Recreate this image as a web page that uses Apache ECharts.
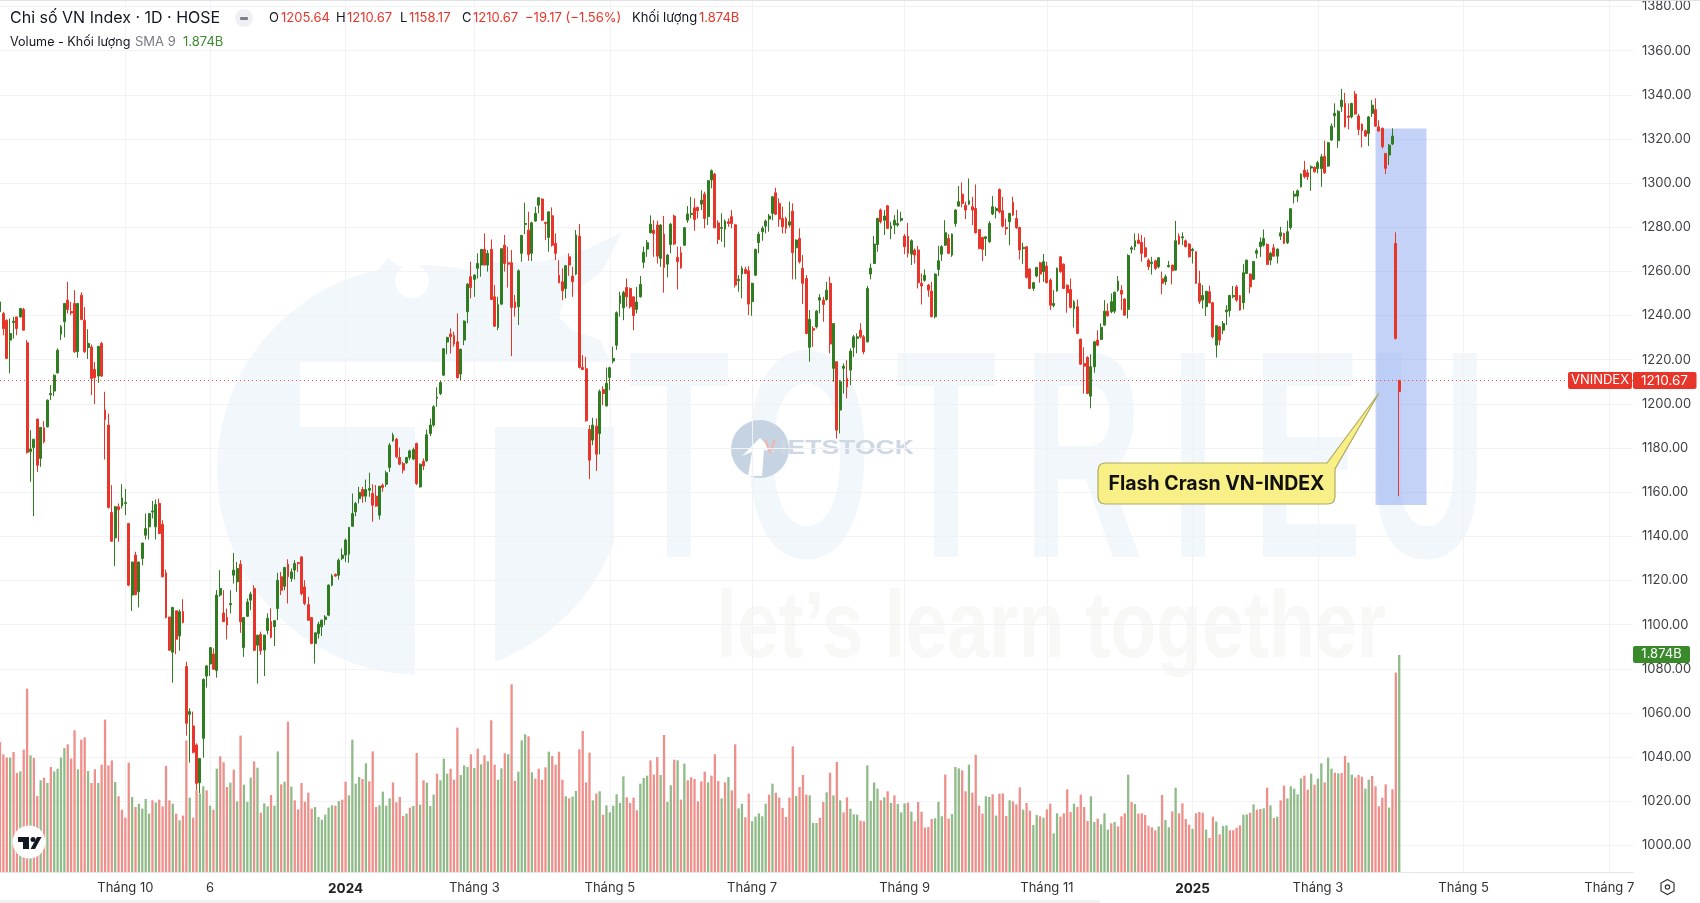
<!DOCTYPE html>
<html lang="vi">
<head>
<meta charset="UTF-8">
<title>Chỉ số VN Index</title>
<style>
    html, body { margin: 0; padding: 0; background: #fff; }
    #container { width: 1700px; height: 903px; }
</style>
</head>
<body>
<div id="container"></div>
<script src="https://cdn.jsdelivr.net/npm/echarts@6.0.0/dist/echarts.min.js"></script>
<script>
// [open, close, low, high]
var candles = [
[1241.7,1246.2,1240,1248],[1240.9,1234.1,1231.1,1241.7],[1237.9,1220.6,1220.3,1238.2],[1228.9,1231.9,1213.8,1238.7],[1236.9,1237.5,1229.6,1239.4],[1239.4,1234.1,1231.1,1239.4],[1239.4,1243.2,1239.1,1243.5],[1242.8,1233.4,1233.1,1243.5],[1227.7,1178,1177.5,1228.9],[1178.4,1179.6,1164.7,1188.1],
[1180.2,1184,1149.1,1184],[1193.1,1172.2,1169.2,1193.4],[1175.3,1189.3,1171.5,1189.6],[1189.2,1182.8,1182.1,1192.2],[1189.6,1201.7,1189.3,1202],[1204.1,1204.7,1201.7,1208.5],[1205.8,1213,1203.5,1213.3],[1214,1224.3,1213.8,1225.1],[1231.6,1234.9,1228.9,1235.7],[1237.2,1245.5,1230.1,1245.5],
[1247,1242.8,1240.9,1255.3],[1241.8,1241.2,1240.2,1246.2],[1245.5,1223.6,1223.1,1251.5],[1223.6,1245.5,1220.9,1245.5],[1249.2,1238.2,1237.9,1250.5],[1237.9,1223.6,1223.1,1243.9],[1225.5,1227.4,1220.4,1233.8],[1225.8,1211.5,1203.9,1226.9],[1215.6,1211.9,1199.9,1219],[1212.6,1226.1,1209.5,1226.1],
[1227.4,1212.6,1212.2,1228.1],[1197.2,1192.9,1174.8,1205.5],[1190.4,1153.1,1152.6,1195.6],[1150.8,1137.8,1137.5,1163.2],[1139.3,1153.4,1126.5,1153.7],[1153.4,1152.1,1137.5,1154.9],[1153.8,1157.4,1152.6,1163.6],[1154.9,1155.3,1149.6,1161.5],[1145.8,1117.9,1117.4,1146.1],[1113.4,1128.4,1106.2,1128.4],
[1131.5,1113.6,1113.3,1133],[1114.9,1128.4,1107.8,1128.4],[1130,1137,1126.9,1137],[1140.5,1143.5,1138.6,1150.3],[1144.3,1150.3,1138.6,1150.3],[1151,1151.5,1148.1,1156.1],[1144.3,1154.4,1138.6,1156.7],[1154.9,1141.3,1141,1157.1],[1145.4,1121.7,1121.4,1147.3],[1123.5,1103.2,1102.8,1125],
[1103.5,1088.4,1088.2,1103.5],[1087.5,1107.8,1073.7,1108.1],[1106.3,1093.4,1086.6,1106.3],[1094.9,1105.9,1088.2,1106.9],[1105.9,1101,1100.6,1111.5],[1081,1055.3,1049.7,1083.2],[1059.4,1060.6,1037.5,1062.1],[1054.1,1042.2,1041.7,1060.6],[1045.5,1028.1,1025,1046.2],[1028.4,1039.4,1023.6,1039.4],
[1048.5,1075.2,1039.7,1075.7],[1076.7,1081.3,1071.5,1081.7],[1082.2,1089.6,1076.7,1089.7],[1086.7,1079.8,1079.5,1089.3],[1079.2,1113.4,1076,1115.7],[1113.4,1116.4,1112.6,1124.7],[1105.3,1101.3,1101.3,1115.6],[1103.2,1099.8,1093.3,1107.3],[1109,1109.6,1105,1115.6],[1122.4,1124.7,1118.6,1132.5],
[1119.4,1125.4,1114.9,1128.4],[1127.4,1101.3,1096.3,1129.2],[1089.6,1103.2,1085.4,1103.5],[1103.8,1110.3,1103.5,1111.8],[1111.1,1113.8,1106.5,1114.9],[1116.4,1088.4,1088.1,1117.9],[1090.7,1095.2,1073.3,1095.5],[1095.6,1088.2,1086.3,1096.8],[1088.5,1095.3,1076.7,1095.3],[1097.3,1102.9,1095.6,1105.1],
[1101.4,1094.3,1093.8,1107.4],[1099.1,1101.8,1090.3,1102.1],[1107.3,1120.1,1102,1123.5],[1121.7,1115.6,1113.4,1123.9],[1117.4,1125.9,1115.6,1126.2],[1127.4,1121.7,1109.6,1129.6],[1120.9,1123.9,1119.4,1125.4],[1124.7,1127.7,1120.4,1129.2],[1128.1,1127.7,1123.9,1128.4],[1130.7,1114.1,1113.3,1131],
[1117.1,1109.6,1108.8,1120.1],[1109.1,1102,1101.7,1112.6],[1103.2,1091.5,1091.1,1103.5],[1091.5,1096.3,1082.4,1096.3],[1096,1100.2,1093.7,1101.3],[1099,1102,1094.8,1102.3],[1102.3,1103.5,1099.8,1104.3],[1104.3,1117.9,1103.8,1118.3],[1117.9,1122.1,1117.4,1122.9],[1122.7,1122,1121.7,1123.2],
[1122.4,1129.2,1120.4,1130],[1130,1131.5,1129.2,1134.5],[1131.5,1138.3,1128.4,1139],[1131.9,1144,1128,1144.3],[1144.6,1150.3,1144.3,1159.4],[1151.1,1154.9,1149.1,1155.6],[1157.1,1159.9,1154.9,1162.4],[1161.2,1158.2,1155.2,1162.4],[1158.2,1161.2,1155.6,1165.7],[1160.9,1161.7,1157.9,1168.8],
[1159.4,1154.1,1146.6,1163.6],[1158.2,1153.7,1153.4,1163.2],[1149.6,1162.7,1147.6,1162.7],[1163.2,1162.1,1160.2,1163.9],[1163.6,1168.8,1162.4,1169.7],[1171.2,1181.3,1169.2,1182.3],[1183.3,1185.8,1182.8,1186.9],[1184,1176,1175.3,1184.6],[1175.7,1172.7,1172.2,1180.2],[1173,1170,1168.5,1173.7],
[1173.3,1175.7,1172.7,1176],[1175.7,1178.7,1174.5,1179.3],[1175,1179.3,1174.5,1180.2],[1182,1163.9,1163.2,1182.5],[1162.4,1172.7,1162.1,1173],[1174,1171.9,1170,1175.3],[1174.2,1186,1173.8,1188.4],
[1186.6,1190.4,1185.4,1193.4],[1190.4,1198.7,1189.6,1199.4],[1202.5,1203.1,1198.7,1207.5],[1204.7,1209.7,1204,1210.8],[1213,1225,1212.6,1225.3],[1228,1230.1,1222.5,1230.4],[1231.6,1230.4,1222.8,1234.2],[1231,1227.1,1225.9,1232.7],[1228.1,1211.8,1211.5,1241],[1213.5,1224.7,1210.5,1225.1],
[1228.9,1237.5,1226.6,1237.8],[1241.7,1254.3,1236.5,1254.6],[1257.6,1252.7,1247.8,1264.4],[1256.4,1258.3,1248.5,1258.8],[1261.4,1263.6,1256.8,1268.2],[1262.9,1270,1257.6,1270],[1270,1262.9,1262.6,1277.2],[1262.9,1268.2,1259.9,1269.7],[1270,1247.3,1247,1274.5],[1248.5,1235.2,1234.9,1253.8],
[1234.6,1245,1233.4,1248.5],[1245.2,1270.3,1244.7,1270.4],[1271.9,1263.6,1259.9,1276.5],[1263.9,1263.3,1252.7,1271.2],[1263.9,1243.7,1221.6,1269.7],[1246.2,1243.5,1239.5,1249.3],[1244,1260.3,1235.7,1260.9],[1268.2,1276.3,1264.4,1276.6],[1281.3,1281.7,1276.9,1291.1],[1278.7,1267.7,1264.8,1287],
[1268.2,1282,1264.7,1282.5],[1282.8,1286.3,1282.5,1289.3],[1290,1293.4,1286.3,1293.5],[1292.8,1283.2,1282.9,1293.1],[1282.2,1281.7,1274.2,1282.5],[1275.4,1287,1268.9,1287],[1285.2,1271.9,1271.2,1289],[1272.7,1268.2,1265.1,1277.2],[1258.3,1254.9,1254.6,1265.1],[1255.3,1251.2,1247,1261.4],
[1252.3,1262.6,1247.8,1262.9],[1266.6,1262.9,1258,1268.2],[1257.9,1255.3,1248.5,1262.1],[1258.8,1276.5,1258.3,1278.7],[1276,1216.5,1216.1,1281.5],[1216.5,1215.6,1215.3,1222.1],[1215.9,1192.4,1191.9,1221.3],[1188.4,1174.5,1165.9,1190.4],[1183.6,1190.4,1181.3,1193.7],[1189.9,1177.2,1169.6,1193.4],
[1186.6,1205.6,1177.2,1206.5],[1206.5,1204.7,1199.4,1208],[1199.1,1209.3,1198.7,1216.5],[1212,1216.4,1206.2,1216.8],[1219.4,1220.6,1218.3,1225.9],[1226.6,1241.3,1224.4,1241.9],[1245.5,1249,1239.5,1250.8],[1243.5,1250.4,1237.9,1251.2],[1252.7,1248.5,1244,1256.8],[1252.3,1244,1243.2,1252.7],
[1248.5,1240,1233.4,1248.5],[1242.8,1246.1,1241,1253],[1248.5,1254.1,1248.1,1257.9],[1264.1,1268.7,1261.4,1271.2],[1270.1,1273,1266.6,1274.2],[1277.5,1281.4,1277.2,1285.4],[1278.7,1277.2,1266.6,1283.2],[1281,1266.9,1263.6,1283],[1265.9,1281,1262.1,1281.4],[1276.9,1261.8,1250.4,1285.1],
[1263.3,1267.4,1257.3,1267.9],[1272.2,1281.4,1268.2,1282],[1285.1,1272.4,1271.9,1285.7],[1266.3,1264.4,1251.8,1271.2],[1268.5,1261.7,1261.2,1271.2],[1271.9,1279.8,1271.5,1280.2],[1283.2,1286,1282,1289.6],[1285.8,1286.3,1284,1293.8],[1288.8,1283.5,1278.4,1293.1],[1289,1287.5,1284,1289.3],
[1290.5,1292.3,1287.8,1296.8],[1295,1284,1279.5,1296.1],[1284.8,1301.1,1281,1301.4],[1301.4,1305.6,1297.6,1306.2],[1304.1,1279.8,1279.5,1304.7],[1282,1274.5,1272.4,1283.2],[1279.5,1279.9,1273.4,1286.3],[1279.2,1282.8,1270.9,1283.5],[1282.5,1281.7,1280.2,1284],[1284.8,1281.7,1279.5,1287.8],
[1281.1,1253.8,1252.7,1281.4],[1255.8,1256.4,1250.8,1258.3],[1258.8,1261.4,1247.8,1262.4],[1260.9,1259.1,1258.8,1262.1],[1260.3,1245.2,1240.2,1262.4],[1246.3,1254.6,1239.9,1254.9],[1258.3,1270,1257.9,1270.3],[1273,1276.9,1268.2,1278],[1278,1279.6,1273.9,1280.5],[1280.5,1282.8,1277.2,1283.5],
[1283.7,1285.1,1278,1286],[1286.3,1293.8,1283.2,1294.1],[1295.6,1285.9,1285.5,1297.9],[1290.8,1283.7,1280.2,1293.1],[1284,1280.2,1277.2,1289.3],[1284,1279.5,1277.2,1284.8],[1281,1282.5,1279.9,1291.6],[1287.3,1268.5,1256.4,1290.8],[1270.7,1274.2,1256.4,1274.5],[1274.9,1264.4,1263.6,1279.5],
[1261.4,1254.6,1245.2,1267.4],[1256.8,1231.9,1231.5,1258.3],[1225.6,1238.3,1219.1,1242.5],[1234.2,1233.4,1225.9,1235.2],[1234.9,1242,1234.2,1242.5],[1247,1248.1,1241,1249.7],[1247,1245,1237.2,1248.5],[1247.3,1251.5,1246.7,1255.3],[1254.6,1227.1,1222.9,1257.6],[1216.1,1236.4,1210,1236.4],
[1219.1,1188.1,1184.3,1219.1],[1197.2,1210,1186.6,1210.8],[1216.1,1217.1,1204.7,1218.3],[1211.5,1207.7,1202.5,1219.8],[1215.3,1223.9,1208.5,1225.1],[1225.6,1230.4,1221.3,1231.2],[1229.6,1230.4,1222.9,1231.9],
[1233.4,1230.4,1229.6,1236.5],[1230.4,1223.6,1222.5,1231.2],[1228.1,1252.3,1227.8,1253.4],[1258.8,1261.5,1256.4,1263.6],[1263.6,1272.4,1263.3,1276],[1272.2,1284,1268.9,1284.3],[1287.8,1282.5,1281.7,1288.5],[1283.2,1285.1,1276.5,1287.8],[1289.7,1279.5,1279.2,1290.1],[1279.5,1280.5,1274.6,1282.5],
[1281,1283.2,1276.9,1285.5],[1281,1281.7,1280.2,1288],[1283.2,1284,1282.5,1287],[1276,1271.2,1267.8,1276.9],[1276,1268.2,1266.3,1282],[1267.8,1273.9,1262.9,1274.5],[1269.7,1267.4,1263.6,1270.4],[1269.7,1254.9,1252.3,1271.5],[1254.6,1253.4,1245,1259.1],[1256,1258.3,1255.3,1260.9],
[1253.8,1251.5,1248.5,1254.3],[1251.1,1239.5,1239.2,1255.3],[1239.5,1258.8,1238.7,1259.1],[1260.9,1264.8,1257.9,1271.6],[1267.8,1271.2,1264.8,1271.9],[1271.9,1277.5,1271.6,1283.2],[1274.9,1268.2,1267.8,1276.9],[1267.4,1276.9,1266.6,1277.2],[1281.7,1287.8,1280.2,1288.2],[1289.6,1291.6,1289.3,1298.7],
[1295,1290.8,1289,1300.3],[1290,1287.8,1283.7,1291.6],[1290.5,1292,1290,1302.1],[1289.3,1287.8,1281,1293.8],[1288.5,1277.5,1277.2,1299.4],[1279,1270.4,1270,1279],[1275.4,1270,1264.7,1275.7],[1274.9,1275.7,1267,1275.7],[1273.4,1281.7,1273,1282.8],[1286,1289.3,1285.5,1294.1],
[1287.5,1288.5,1284,1289.3],[1297.1,1287,1286.3,1297.6],[1287.5,1280.5,1279.9,1293.8],[1279.9,1279.3,1276.5,1284],[1282.5,1286.3,1271.9,1286.3],[1291.3,1285.5,1285.2,1293.8],[1284,1279.8,1279.3,1287.8],[1279.9,1269.7,1265.4,1280.2],[1270.3,1270.9,1263.3,1273],[1271.2,1257.3,1256.8,1271.2],
[1261.1,1252.3,1252,1261.4],[1252.3,1254.9,1251.2,1255.3],[1257.9,1261.8,1257.3,1262.1],[1263.9,1258.8,1254.9,1264.4],[1259.9,1264.4,1255.3,1267.9],[1262.4,1254.9,1254.6,1264.4],[1256.1,1244.7,1242.5,1256.8],[1244.6,1245.5,1243.7,1251.5],[1251.2,1261.4,1250.8,1261.8],[1266.6,1259.9,1259.4,1266.9],
[1263.3,1252.3,1252,1263.6],[1253.8,1250.3,1241.3,1254.1],[1251.8,1243.7,1243.2,1256.8],[1243.1,1246.2,1234.6,1247],[1244,1231.9,1231.6,1247.3],[1229.3,1218,1217.6,1229.6],[1218.3,1217.1,1204.7,1225.6],[1221,1204.7,1204.4,1221.6],[1203.5,1216.8,1198,1222.5],[1216.8,1228.1,1214.1,1228.6],
[1228.9,1226.6,1226.2,1233.4],[1229.2,1234.6,1228.9,1236.5],[1235.7,1242,1235.4,1247],[1242,1239.9,1239.5,1245.5],[1241.7,1246.3,1241,1250],[1242,1250.6,1241,1250.8],[1251.5,1255.6,1250.8,1257.9],[1251.5,1249.7,1242.5,1253.8],[1247.5,1240.2,1240,1247.8],[1242.8,1267.2,1238.7,1267.8],
[1270,1270.7,1268.2,1271.5],[1271.2,1273.9,1269.7,1277.2],[1274.2,1272.7,1272.4,1277.2],[1273.1,1268.2,1264.4,1276.5],[1270.7,1266.6,1266.3,1275.4],[1265.1,1262.1,1260.6,1265.9],[1263.6,1264.2,1258.6,1266.6],[1264.8,1261.4,1260.6,1265.4],[1262.1,1266.2,1261.4,1266.3],[1256.7,1254.6,1249.6,1259.9],
[1255.3,1257.6,1253.8,1258.6],[1262.1,1262.7,1261.8,1264.7],[1262.9,1260.3,1254.1,1262.9],[1260.6,1273.9,1260.3,1282.9],[1276,1272.4,1272.1,1277.2],[1275.2,1275.7,1271.9,1277.7],[1273.9,1271.2,1270.9,1274.5],[1272.4,1266.6,1266.3,1272.7],[1269.4,1270,1263.6,1270.7],[1268.9,1254.6,1254.3,1269.2],
[1254.6,1246.3,1245.2,1260.3],[1247,1249.1,1243.2,1253.8],[1244,1251,1239.8,1251.2],[1250.8,1245.8,1245.5,1253.5],[1245.8,1230.4,1229.6,1246.2],[1226.6,1235.4,1221,1235.4],[1234.9,1228.9,1226.6,1235.2],[1233.4,1236.4,1231.6,1237.6],[1241.7,1242.5,1235.7,1244.7],[1242.2,1249.1,1239.5,1249.4],
[1248.5,1249.1,1247.8,1253.4],[1253,1247,1246.2,1253.8],[1249,1242.5,1242.2,1249.3],[1245.8,1259.4,1242.8,1263.3],[1259.1,1265.1,1258.8,1265.4],[1258.8,1253,1250,1259.1],[1256.4,1264.5,1256.1,1264.8],[1268.2,1269.4,1265.9,1270.4],[1271.2,1273.3,1266.6,1275.4],[1271.9,1274.9,1271.2,1279],
[1272.2,1263.2,1262.9,1272.7],[1265.1,1268.2,1262.9,1268.9],[1270.7,1266.9,1266.6,1272.4],[1266.9,1270.1,1263.6,1270.4],[1276,1277.5,1274.2,1280.2],[1277.2,1272.7,1272.4,1277.5],[1273,1278,1272.4,1283],
[1279.9,1288.4,1279,1288.7],[1294.1,1295,1290.8,1296.5],[1294.1,1296.5,1291.5,1297.1],[1298.3,1304.1,1298,1304.4],[1305.9,1302.9,1302.1,1310.1],[1304.7,1302.9,1301.4,1306.2],[1306.8,1307.4,1296.5,1308],[1307.1,1305.1,1304.7,1307.7],[1306.6,1309.2,1304.4,1310.1],[1306.6,1311.9,1298.3,1313.1],
[1312.2,1304.7,1304.1,1319.2],[1307.7,1318.3,1307.4,1318.7],[1319.5,1325.8,1319.2,1327],[1330.5,1331.6,1325.2,1336.1],[1319.2,1332.5,1316,1333.1],[1334.6,1337.6,1332.3,1342.7],[1336.1,1325.5,1325.2,1340.9],[1330.4,1329.8,1324.3,1336.1],[1330,1336.1,1329.3,1336.4],[1340.3,1331.3,1331,1341.8],
[1330.4,1324.3,1321.7,1331.3],[1326.7,1323.7,1316.2,1327],[1323.7,1321.3,1321,1324.3],[1322.5,1330,1316.8,1330.4],[1331.6,1335.3,1330,1337.6],[1333.4,1325.8,1325.5,1338.4],[1325.5,1323.6,1323.3,1328.5],[1324.8,1316.5,1315.7,1325.2],[1313.4,1306.7,1304.1,1313.7],[1312.7,1317.2,1308.2,1317.7],
[1317.7,1321.3,1317.2,1324.8],[1272.7,1229.6,1229.2,1277.7],[1205.64,1210.67,1158.17,1210.67]
];

// volume in billions, one per candle
var volumes = [
1.123,1.016,.988,.988,1.036,.855,.869,1.057,1.583,1.008,
.985,.656,.792,.815,.769,.907,.869,.892,.988,1.071,
1.103,.979,1.224,.887,1.143,1.163,.872,.769,.887,.769,
.927,1.316,.921,.964,.777,.654,.538,.469,.944,.648,
.561,.59,.547,.631,.504,.619,.599,.625,.567,.916,
.619,.59,.504,.446,.487,1.137,.642,.469,.705,.677,
.74,.705,.573,.538,.892,.999,.947,.734,.772,.884,
.61,1.178,.754,.605,.815,.956,.901,.512,.593,.567,
.665,.573,1.042,.757,.78,1.298,.737,.619,.541,.769,
.607,.685,.547,.561,.475,.452,.495,.556,.576,.573,
.613,.625,.78,.662,1.143,.763,.82,.803,.939,.783,
1.042,.561,.576,.694,.573,.636,.774,.602,.648,.484,
.504,.556,.57,1.028,.582,.792,.772,.57,.668,.849,
.792,.979,.849,.892,.797,1.247,.838,.921,.907,
1.016,.898,1.065,.93,1.008,.956,1.31,.927,.797,.895,
1.025,1.016,1.621,.786,.867,1.137,1.189,1.172,.861,.806,
.892,.797,.904,1.039,1.002,.927,1.039,.797,.654,.636,
.651,.7,1.059,1.218,.774,1.031,.619,.677,.697,.495,
.576,.515,.573,.671,.596,.826,.645,.596,.642,.533,
.763,.812,.832,.964,.841,.993,.838,1.183,.605,.749,
.97,.964,.625,.936,.792,.818,.803,.61,.783,.867,
.774,.832,1.016,.786,.636,.774,.82,.705,1.103,.55,
.59,.472,.677,.438,.478,.507,.481,.59,.668,.763,
.685,.642,.553,.475,.642,1.085,.656,.734,.838,.668,
.662,.423,.423,.469,.605,.688,.858,.662,.95,.619,
.515,.645,.547,.498,.495,.443,.438,.921,.613,.774,
.72,.619,.645,.697,.596,.662,.587,.515,.593,.599,
.521,.438,.605,.521,.383,.389,.458,.464,.605,
.481,.841,.461,.501,.907,.895,.878,.697,.927,.685,
1.013,.573,.504,.654,.648,.671,.487,.677,.679,.484,
.619,.61,.584,.731,.538,.596,.53,.406,.492,.481,
.469,.541,.59,.334,.507,.478,.507,.714,.518,.59,
.561,.668,.561,.44,.654,.432,.461,.412,.507,.366,
.42,.432,.394,.481,.507,.841,.605,.587,.504,.507,
.492,.4,.386,.36,.394,.665,.449,.386,.524,.728,
.507,.593,.458,.409,.374,.507,.518,.512,.366,.294,
.478,.435,.325,.397,.403,.36,.36,.383,.403,.495,
.498,.512,.584,.538,.544,.55,.728,.576,.466,.478,
.619,.746,.636,.74,.72,.671,.809,.832,.711,.849,
.754,.806,.939,.774,.988,.892,.858,.852,.855,1.002,
.944,.841,.815,.838,.823,.72,.797,.829,.74,.567,
.642,.757,.556,.714,1.722,1.874
];

// colour of each volume bar as it shows on the chart, r = red, g = green
var volumeColors =
    'rrrgrrgrrg' + 'rrgrgrgggg' + 'rrrgrrgrrg' + 'rrrrgrrrrg' + 'rggggrgrrr' + 'rgrgrrgrrg' + 'grgrgrrrgr' +
    'grgggrgrgg' + 'rggrgrgrrr' + 'rrrggggggr' + 'grrggggrgr' + 'rrggggrrrr' + 'grgrgrgggr' + 'gggrrrggg' +
    'rgrgrgrrgg' + 'rgrrgggrgr' + 'rrrgrrrrgr' + 'ggrrrrgrgr' + 'ggggggrrrr' + 'gggrrrgrgg' + 'rgrgrrrrrr' +
    'grrrgrgrrg' + 'grrgggggrg' + 'rrrrrrgrrr' + 'gggrrgrgrg' + 'rrgggrrggg' + 'grgrgrgggr' + 'grrrrrrgg' +
    'grrgggrrgr' + 'rrrggrgrrr' + 'grrrgrrggr' + 'grrggrrrrg' + 'rrrrggrggg' + 'rgrrrgrgrr' + 'rrrrgrggrg' +
    'rrrrgrrrgr' + 'rgrggrrrrg' + 'grgrrgrgrg' + 'rrgggggrrg' + 'rggrggrgrr' + 'ggrrrggrrr' + 'rrgrrg';

var priceTicks = [1000, 1020, 1040, 1060, 1080, 1100, 1120, 1140, 1160, 1180, 1200, 1220, 1240, 1260, 1280, 1300, 1320, 1340, 1360, 1380];
var tickIndexes = [37, 62, 102, 140, 180, 222, 267, 309, 352, 389, 432, 475];
var tickLabels = ['Tháng 10', '6', '2024', 'Tháng 3', 'Tháng 5', 'Tháng 7', 'Tháng 9', 'Tháng 11', '2025', 'Tháng 3', 'Tháng 5', 'Tháng 7'];
var slotCount = 483;
var lastClose = 1210.67;

var RED = '#e8352a';
var GREEN = '#2f7d20';
var VOL_RED = '#ee8f8a';
var VOL_GREEN = '#8fbb88';
var FONT = 'Inter, "Noto Sans", sans-serif';

var slots = [];
for (var i = 0; i < slotCount; i++) slots.push(String(i));

var tickMap = {};
tickIndexes.forEach(function (idx, k) { tickMap[idx] = tickLabels[k]; });
function isTick(index) { return tickMap[index] !== undefined; }

var candleData = candles.map(function (row, idx) {
    // the last candle is drawn red on the chart although close is above open
    if (idx === candles.length - 1) {
        return { value: row, itemStyle: { color: RED, borderColor: RED } };
    }
    return row;
});
var volumeData = volumes.map(function (v, idx) {
    return { value: v, itemStyle: { color: volumeColors.charAt(idx) === 'g' ? VOL_GREEN : VOL_RED } };
});

function label(text, x, y, color, size, extra) {
    var style = { text: text, x: x, y: y, fill: color, font: (size || 13) + 'px ' + FONT, textVerticalAlign: 'middle' };
    if (extra) for (var k in extra) style[k] = extra[k];
    return { type: 'text', z: 20, silent: true, style: style };
}
function box(x, y, w, h, fill, z, r) {
    return { type: 'rect', z: z, silent: true, shape: { x: x, y: y, width: w, height: h, r: r || 0 }, style: { fill: fill } };
}

var WM = '#f2f7fc';
var calloutPoints = [[1105, 463], [1327, 463], [1379, 393], [1335, 469], [1335, 497], [1334, 501], [1332, 503], [1328, 504], [1105, 504], [1101, 503], [1099, 501], [1098, 497], [1098, 470], [1099, 466], [1101, 464]];
var elements = [
    // background watermark
    { type: 'circle', z: -5, silent: true, shape: { cx: 422, cy: 470, r: 205 }, style: { fill: WM } },
    { type: 'polygon', z: -5, silent: true, shape: { points: [[370, 280], [388, 258], [432, 293], [480, 262], [540, 262], [585, 250], [622, 232], [603, 270], [565, 300], [556, 325], [600, 340], [610, 362], [430, 362], [370, 300]] }, style: { fill: WM } },
    { type: 'circle', z: -5, silent: true, shape: { cx: 412, cy: 281, r: 17 }, style: { fill: '#fff' } },
    box(300, 362, 340, 65, '#fff', -5),
    box(415, 427, 80, 255, '#fff', -5),
    box(614, 427, 30, 140, '#fff', -5),
    { type: 'text', z: -4, silent: true, style: { text: 'let’s learn together', x: 716, y: 631, fill: '#f8f8f6', font: 'bold 94px "Liberation Sans"', textVerticalAlign: 'middle' }, scaleX: 0.8, originX: 716, originY: 631 },
    { type: 'circle', z: -3, silent: true, shape: { cx: 760, cy: 449, r: 29 }, style: { fill: '#c6d3e2' } },
    { type: 'polygon', z: -3, silent: true, shape: { points: [[748, 476], [752, 452], [742, 456], [760, 438], [774, 452], [764, 450], [762, 476]] }, style: { fill: '#fff' } },
    { type: 'text', z: -3, silent: true, style: { text: 'V', x: 764, y: 448, fill: '#e9b9b5', font: 'bold 18px "Liberation Sans"', textVerticalAlign: 'middle' } },
    { type: 'text', z: -3, silent: true, style: { text: 'IETSTOCK', x: 780, y: 448, fill: '#cdd8e4', font: 'bold 20px "Liberation Sans"', textVerticalAlign: 'middle' }, scaleX: 1.33, originX: 780, originY: 448 },
    // highlighted zone behind the last candles
    box(1375.5, 128.5, 51, 376.5, 'rgba(125,155,240,0.45)', 1),
    // callout
    { type: 'polygon', z: 15, silent: true, shape: { points: calloutPoints }, style: { fill: '#f8ef86', stroke: '#b0aa66', lineWidth: 1.2 } },
    { type: 'text', z: 16, silent: true, style: { text: 'Flash Crasn VN-INDEX', x: 1216.5, y: 484, fill: '#111', font: '700 19.5px ' + FONT, textAlign: 'center', textVerticalAlign: 'middle' } },
    // header
    label('Chỉ số VN Index · 1D · HOSE', 10, 18, '#131722', 16),
    { type: 'circle', z: 20, silent: true, shape: { cx: 244, cy: 18, r: 9 }, style: { fill: '#eef0f4' } },
    box(240, 17, 8, 3, '#7b7f8a', 21, 1),
    label('O', 269, 18, '#131722'), label('1205.64', 281, 18, RED),
    label('H', 336, 18, '#131722'), label('1210.67', 347, 18, RED),
    label('L', 400, 18, '#131722'), label('1158.17', 409, 18, RED),
    label('C', 462, 18, '#131722'), label('1210.67', 473, 18, RED),
    label('−19.17 (−1.56%)', 525, 18, RED),
    label('Khối lượng', 632, 18, '#131722'), label('1.874B', 699, 18, RED),
    label('Volume - Khối lượng', 10, 42, '#131722', 12.6),
    label('SMA 9', 135, 42, '#787b86'),
    label('1.874B', 183, 42, '#3f8a32'),
    // price tags
    box(1568, 372, 64, 17, RED, 18, 2),
    box(1633, 372, 63.5, 17, RED, 18, 2),
    label('VNINDEX', 1600, 380.5, '#fff', 13, { textAlign: 'center' }),
    label('1210.67', 1664.5, 380.5, '#fff', 13.5, { textAlign: 'center' }),
    box(1633, 646, 57, 17, '#3a8a2c', 18, 2),
    label('1.874B', 1661.5, 654.5, '#fff', 13, { textAlign: 'center' }),
    // TradingView badge
    { type: 'circle', z: 18, silent: true, shape: { cx: 29, cy: 842, r: 16.5 }, style: { fill: '#fff' } },
    box(18, 837, 11, 5, '#131722', 19),
    box(23, 837, 6, 12, '#131722', 19),
    { type: 'circle', z: 19, silent: true, shape: { cx: 33, cy: 839.5, r: 2.5 }, style: { fill: '#131722' } },
    { type: 'polygon', z: 19, silent: true, shape: { points: [[37, 837], [41.5, 837], [35, 849], [30.5, 849]] }, style: { fill: '#131722' } },
    // settings icon
    { type: 'polygon', z: 19, silent: true, shape: { points: [[1667.5, 879.5], [1674, 883], [1674, 891], [1667.5, 894.5], [1661, 891], [1661, 883]] }, style: { fill: 'none', stroke: '#333', lineWidth: 1.2 } },
    { type: 'circle', z: 19, silent: true, shape: { cx: 1667.5, cy: 887, r: 2.2 }, style: { fill: 'none', stroke: '#333', lineWidth: 1.2 } },
    // screenshot edges
    box(0, 0, 1700, 1, '#dfe1e6', 19),
    box(0, 900, 1100, 3, '#f0f0f0', 19)
];

// big watermark letters, one by one since they are spaced out
[['T', 679], ['O', 807], ['T', 946], ['R', 1083], ['I', 1193], ['E', 1307], ['U', 1427]].forEach(function (p) {
    elements.push({
        type: 'text', z: -4, silent: true, scaleX: 0.56, originX: p[1], originY: 475,
        style: { text: p[0], x: p[1], y: 475, fill: WM, font: 'bold 296px "Liberation Sans"', textAlign: 'center', textVerticalAlign: 'middle' }
    });
});

var chart = echarts.init(document.getElementById('container'), null, { renderer: 'canvas' });
chart.setOption({
    animation: false,
    backgroundColor: '#fff',
    grid: { left: 0, right: 67, top: 0, height: 872 },
    xAxis: {
        type: 'category',
        data: slots,
        boundaryGap: false,
        axisLine: { show: true, lineStyle: { color: '#e3e5ea', width: 1 } },
        axisTick: { show: false },
        splitLine: { show: true, interval: function (index) { return isTick(index); }, lineStyle: { color: '#f1f2f5', width: 1 } },
        axisLabel: {
            interval: function (index) { return isTick(index); },
            hideOverlap: false,
            margin: 10,
            formatter: function (value, index) {
                var t = tickMap[index];
                if (t === '2024' || t === '2025') return '{b|' + t + '}';
                return t === undefined ? '' : t;
            },
            color: '#333',
            fontFamily: FONT,
            fontSize: 13,
            rich: { b: { fontWeight: 'bold', fontFamily: FONT, fontSize: 13.5, color: '#222' } }
        }
    },
    yAxis: [
        {
            type: 'value',
            position: 'right',
            min: 987.96,
            max: 1382.89,
            axisLine: { show: false },
            axisTick: { show: false, customValues: priceTicks },
            splitLine: { show: true, lineStyle: { color: '#f1f2f5', width: 1 } },
            axisLabel: {
                customValues: priceTicks,
                margin: 9,
                color: '#3d3f45',
                fontFamily: FONT,
                fontSize: 13,
                formatter: function (v) { return v.toFixed(2); }
            }
        },
        { type: 'value', min: 0, max: 7.53, show: false, splitLine: { show: false } }
    ],
    series: [
        {
            name: 'Khối lượng',
            type: 'bar',
            yAxisIndex: 1,
            barWidth: 2.3,
            z: 2,
            data: volumeData
        },
        {
            name: 'VNINDEX',
            type: 'candlestick',
            barWidth: 2.4,
            z: 3,
            itemStyle: { color: GREEN, color0: RED, borderColor: GREEN, borderColor0: RED, borderWidth: 1 },
            data: candleData,
            markLine: {
                silent: true,
                symbol: 'none',
                label: { show: false },
                lineStyle: { type: [1, 3], color: '#e8574d', width: 1 },
                data: [{ yAxis: lastClose }]
            }
        }
    ],
    graphic: { elements: elements }
});
</script>
</body>
</html>
